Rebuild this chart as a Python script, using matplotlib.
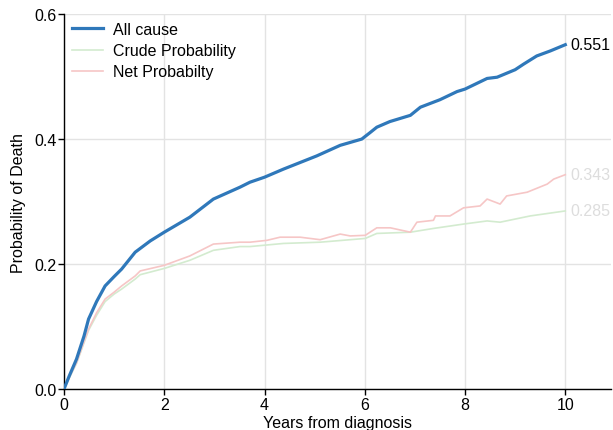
import matplotlib
matplotlib.use("Agg")
import matplotlib.pyplot as plt

plt.rcParams['font.family'] = ['Liberation Sans', 'DejaVu Sans']

# Cumulative probability of death by years since diagnosis
years_all = [0, 0.1, 0.25, 0.4, 0.49, 0.65, 0.82, 1.0, 1.15, 1.42, 1.72, 2.0, 2.51, 2.98,
             3.51, 3.71, 4.0, 4.38, 5.04, 5.51, 5.94, 6.1, 6.24, 6.5, 6.91, 7.11, 7.5, 7.84,
             8.0, 8.44, 8.64, 9.0, 9.17, 9.43, 9.7, 10.0]
all_cause = [0, 0.02, 0.048, 0.085, 0.112, 0.14, 0.165, 0.18, 0.192, 0.219, 0.237, 0.251,
             0.275, 0.304, 0.323, 0.331, 0.339, 0.352, 0.373, 0.390, 0.400, 0.410, 0.419,
             0.428, 0.438, 0.451, 0.463, 0.476, 0.480, 0.497, 0.499, 0.511, 0.520, 0.533,
             0.541, 0.551]

years_net = [0, 0.1, 0.25, 0.49, 0.65, 0.82, 1.0, 1.15, 1.42, 1.52, 2.0, 2.51, 2.98, 3.51,
             3.71, 4.05, 4.31, 4.71, 5.11, 5.51, 5.71, 6.01, 6.24, 6.51, 6.91, 7.04, 7.37,
             7.41, 7.70, 7.97, 8.3, 8.44, 8.7, 8.83, 9.24, 9.64, 9.77, 10.0]
net_prob = [0, 0.018, 0.042, 0.096, 0.122, 0.144, 0.155, 0.165, 0.181, 0.189, 0.198, 0.213,
            0.232, 0.235, 0.235, 0.238, 0.243, 0.243, 0.239, 0.248, 0.245, 0.246, 0.258,
            0.258, 0.251, 0.267, 0.270, 0.277, 0.277, 0.290, 0.293, 0.304, 0.296, 0.309,
            0.315, 0.328, 0.336, 0.343]

years_crude = [0, 0.1, 0.25, 0.49, 0.65, 0.82, 1.0, 1.15, 1.42, 1.52, 2.0, 2.51, 2.98, 3.51,
               3.71, 4.38, 5.11, 5.71, 6.01, 6.24, 6.91, 7.37, 7.97, 8.44, 8.7, 9.3, 10.0]
crude_prob = [0, 0.017, 0.041, 0.094, 0.118, 0.14, 0.152, 0.16, 0.176, 0.183, 0.193, 0.206,
              0.222, 0.228, 0.228, 0.233, 0.235, 0.239, 0.241, 0.249, 0.251, 0.257, 0.264,
              0.269, 0.267, 0.277, 0.285]

x_ticks = [0, 2, 4, 6, 8, 10]
y_ticks = [0.0, 0.2, 0.4, 0.6]

FS = 11.5

fig = plt.figure(figsize=(6.13, 4.31), dpi=100)
ax = fig.add_axes([0.1044, 0.095, 0.893, 0.87])

blue = '#2f78ba'
green = '#d3ebcf'
pink = '#f6c6c6'

ax.plot(years_all, all_cause, color=blue, lw=2.3, label='All cause', zorder=4)
ax.plot(years_crude, crude_prob, color=green, lw=1.2, label='Crude Probability', zorder=3)
ax.plot(years_net, net_prob, color=pink, lw=1.2, label='Net Probabilty', zorder=3)

ax.text(years_all[-1] + 0.1, all_cause[-1], f'{all_cause[-1]:.3f}', va='center', ha='left',
        fontsize=FS, color='black')
ax.text(years_net[-1] + 0.1, net_prob[-1], f'{net_prob[-1]:.3f}', va='center', ha='left',
        fontsize=FS, color='#dddddd')
ax.text(years_crude[-1] + 0.1, crude_prob[-1], f'{crude_prob[-1]:.3f}', va='center', ha='left',
        fontsize=FS, color='#dddddd')

ax.set_xlim(0, 10.92)
ax.set_ylim(0, 0.6)
ax.set_xticks(x_ticks)
ax.set_yticks(y_ticks)
ax.set_yticklabels([f'{v:.1f}' for v in y_ticks])
ax.tick_params(axis='both', labelsize=FS, length=4, width=1, direction='out', pad=1.5,
               color='black', labelcolor='black')
ax.grid(True, color='#e3e3e3', lw=1)
ax.set_axisbelow(True)
for s in ['top', 'right']:
    ax.spines[s].set_visible(False)
for s in ['left', 'bottom']:
    ax.spines[s].set_color('black')
    ax.spines[s].set_linewidth(1)

ax.set_xlabel('Years from diagnosis', fontsize=FS, labelpad=2.5)
ax.set_ylabel('Probability of Death', fontsize=FS, labelpad=6)

ax.legend(loc='upper left', frameon=False, fontsize=FS, handlelength=1.95,
          handletextpad=0.6, labelspacing=0.38, borderaxespad=0.1, bbox_to_anchor=(0.0, 1.0))

fig.savefig('out.png', dpi=100)
